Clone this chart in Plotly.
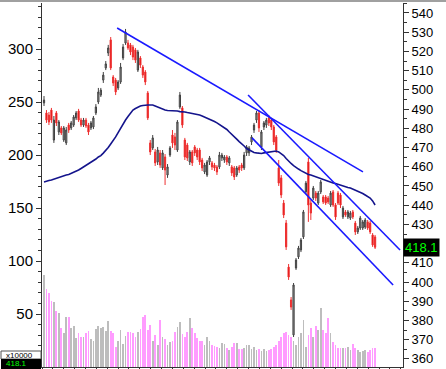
import plotly.graph_objects as go

# ---- data ----
open_ = [493.2,488.0,486.9,489.5,473.9,488.0,478.1,480.2,473.9,472.4,481.7,480.2,481.7,485.4,489.0,484.3,481.7,484.3,481.7,480.2,
         480.7,488.0,493.7,497.3,505.1,511.4,519.2,526.0,506.7,505.1,501.0,504.1,516.6,524.4,524.4,523.4,522.3,520.8,510.3,516.6,
         511.9,509.3,498.4,472.4,469.8,467.7,462.5,467.2,459.4,465.1,455.7,466.1,476.5,475.5,468.7,491.1,490.6,473.9,471.3,462.5,
         467.7,470.3,468.7,468.7,463.5,457.3,455.7,462.5,462.0,460.9,459.9,459.9,464.6,463.5,465.1,462.0,459.9,459.4,455.7,459.9,
         460.9,459.4,467.2,467.2,472.9,479.1,484.3,488.0,470.3,480.7,481.7,485.4,484.3,480.7,475.5,459.4,454.2,441.1,430.7,407.8,
         390.7,372.5,407.3,413.1,416.7,423.5,446.9,462.5,441.1,443.7,446.3,441.1,446.9,444.3,444.3,443.7,440.1,446.9,440.1,446.3,
         445.3,433.9,436.5,433.9,433.3,436.5,430.7,426.1,428.1,428.1,428.6,431.3,430.7,424.5,423.5]
high = [496.8,489.5,488.5,490.6,486.4,489.0,484.3,481.2,481.2,480.7,482.8,483.8,486.9,489.0,490.1,485.4,485.4,485.4,482.8,483.8,
        486.4,492.6,501.0,501.0,509.3,515.0,523.4,527.5,507.7,506.2,505.1,514.0,523.9,531.7,526.0,524.4,523.4,521.8,520.8,517.6,
        512.9,510.3,499.4,473.9,476.5,469.2,470.3,468.7,468.7,466.6,461.4,470.8,479.1,477.6,484.3,498.9,491.6,475.0,472.4,468.7,
        468.7,471.3,469.8,469.8,464.6,462.0,463.5,465.6,463.0,462.0,460.9,467.7,467.2,466.1,466.1,465.6,460.9,460.4,460.4,460.9,
        462.0,467.7,471.3,470.8,476.5,482.8,489.0,489.5,479.1,483.8,485.4,486.9,485.4,481.7,476.5,463.5,455.7,442.7,432.3,409.4,
        392.2,399.5,412.5,418.8,422.9,437.5,452.6,464.6,442.7,450.0,447.4,447.4,453.1,445.3,445.3,444.8,447.4,447.9,441.1,447.4,
        446.3,439.6,437.5,437.5,437.0,437.5,431.8,429.2,434.4,432.3,433.3,432.3,431.8,425.5,424.5]
low = [491.6,482.8,481.7,482.8,472.4,481.2,476.5,476.5,472.9,471.3,477.6,479.1,480.7,484.3,483.3,480.7,480.7,480.2,476.5,479.1,
       479.6,486.9,492.6,496.3,503.6,510.3,517.6,510.3,502.0,497.3,499.9,503.1,515.5,523.4,520.8,518.1,515.5,514.0,509.3,511.4,
       506.2,502.5,484.3,466.1,468.7,460.4,460.9,459.4,458.3,450.5,454.2,465.1,469.8,468.7,467.7,490.1,480.2,463.5,463.0,460.9,
       460.4,465.6,463.5,460.9,457.8,456.2,454.7,460.9,458.3,457.8,455.7,458.8,463.0,462.0,460.9,460.4,455.2,453.1,454.7,456.8,
       457.8,458.3,465.6,465.6,471.3,477.6,482.8,478.1,468.7,479.1,480.2,481.2,479.1,471.3,467.2,450.0,443.7,433.3,416.7,401.1,
       385.5,371.4,406.3,412.0,415.6,422.4,445.8,431.3,432.3,442.7,442.2,440.1,445.8,440.6,440.1,440.6,439.1,439.1,432.3,440.1,
       438.5,432.8,433.9,432.8,432.3,432.8,424.5,425.0,427.1,427.1,427.6,427.1,425.0,418.3,417.2]
close = [494.7,484.3,483.3,484.3,484.3,482.8,483.3,477.6,480.2,479.1,479.1,482.8,485.9,488.0,484.3,481.7,484.3,481.2,478.1,482.8,
         485.4,491.1,498.9,499.9,507.7,513.5,521.8,511.4,503.6,498.9,504.1,511.9,522.3,530.1,521.8,519.7,517.1,515.5,519.7,512.9,
         507.7,504.1,485.4,467.7,475.0,462.0,468.7,460.9,467.2,458.3,459.9,469.8,472.4,471.3,483.3,497.3,481.7,465.1,464.6,467.7,
         462.0,467.2,465.1,462.5,459.4,460.9,462.5,464.6,459.9,459.4,457.3,466.1,466.1,465.1,462.5,464.6,456.8,454.7,459.4,458.3,
         459.4,466.1,470.3,469.8,475.5,481.7,488.0,480.2,478.1,482.8,484.3,482.8,480.7,472.9,468.7,451.5,445.3,434.9,418.3,402.6,
         387.0,398.5,411.5,417.7,421.9,436.5,451.5,440.1,435.9,448.9,443.7,446.3,452.1,441.7,441.1,441.7,446.3,440.1,433.9,441.1,
         440.1,438.5,434.9,436.5,435.9,433.9,426.1,428.1,433.3,431.3,432.3,428.1,426.1,419.3,418.1]
moving_avg = [452.1,452.6,452.8,453.1,453.6,454.1,454.4,454.9,455.2,455.7,456.0,456.5,457.3,457.8,458.3,459.1,459.9,460.6,461.4,462.2,
              463.0,464.0,465.1,465.8,467.1,468.4,470.0,471.8,473.4,475.5,477.8,480.2,482.3,484.3,486.1,488.0,489.5,490.3,491.1,491.6,
              491.9,492.1,492.1,492.1,492.1,491.6,491.1,490.3,489.8,489.5,489.3,489.3,489.0,489.0,489.0,488.7,488.7,488.5,488.2,488.0,
              487.7,487.4,487.2,486.9,486.4,485.9,485.4,484.6,484.0,483.5,482.8,482.0,481.2,480.4,479.4,478.1,477.0,475.7,474.4,473.1,
              472.1,470.8,469.5,468.7,467.9,467.4,467.2,466.9,466.9,467.2,467.4,467.7,467.9,468.2,468.2,467.7,466.9,465.8,464.3,462.7,
              461.7,460.6,459.9,458.8,458.0,457.3,456.7,456.0,455.7,455.2,454.7,454.4,454.1,453.6,453.1,452.6,452.1,451.5,451.3,450.8,
              450.5,450.0,449.5,449.2,448.9,448.4,447.9,447.4,446.9,446.1,445.3,444.5,443.7,442.2,440.1]
volume = [87,74,70,62,61,53,51,37,32,47,47,37,39,27,32,28,28,32,34,26,25,36,39,37,38,34,43,34,32,19,25,35,22,29,33,33,32,28,33,36,
          47,49,35,40,25,30,21,44,28,26,21,24,25,33,38,42,31,28,33,46,37,32,27,25,25,21,28,25,21,20,19,18,23,22,18,16,19,23,23,17,
          17,18,21,21,17,19,16,17,15,17,15,16,17,19,21,
          25,28,32,33,30,28,25,21,28,32,44,19,30,37,28,39,35,56,35,32,46,32,24,21,18,18,18,18,19,16,22,18,16,14,15,16,14,16,18,18]
# trend lines: (bar index, price) endpoints
trend_upper = ([29.6, 129.1], [532.2, 457.3])
trend_mid = ([82.6, 144.1], [497.3, 416.7])
trend_low = ([84.2, 141.3], [475.0, 398.5])
left_ticks = [50, 100, 150, 200, 250, 300]
right_ticks = [360, 370, 380, 390, 400, 410, 430, 440, 450, 460, 470, 480, 490, 500, 510, 520, 530, 540]
last_price_label = "418.1"
vol_unit_label = "x10000"
bottom_price_label = "418.1"

idx = list(range(len(close)))
vol_colors = ['#bdbdbd' if c >= o else '#ff9cff' for o, c in zip(open_, close)]

fig = go.Figure()
fig.add_trace(go.Bar(x=idx, y=volume, marker=dict(color=vol_colors, line=dict(width=0)),
                     width=0.7, yaxis='y', showlegend=False))
fig.add_trace(go.Candlestick(x=idx, open=open_, high=high, low=low, close=close, yaxis='y2',
                             increasing=dict(fillcolor='#a0a0a0', line=dict(color='#404040', width=1)),
                             decreasing=dict(fillcolor='#e00000', line=dict(color='#ee3030', width=1)),
                             whiskerwidth=0, showlegend=False))
fig.add_trace(go.Scatter(x=idx, y=moving_avg, yaxis='y2', mode='lines',
                         line=dict(color='#14148c', width=1.6), showlegend=False))
for tl in (trend_upper, trend_mid, trend_low):
    fig.add_trace(go.Scatter(x=tl[0], y=tl[1], yaxis='y2', mode='lines',
                             line=dict(color='#1a1aff', width=1.6), showlegend=False))

W, H = 446, 369
ml, mr, mt, mb = 42, 43, 3, 2
pw, ph = W - ml - mr, H - mt - mb
def px(x):
    return (x - ml) / pw
def py(y):
    return (H - mb - y) / ph

fam = 'Liberation Sans, Arial, sans-serif'
fig.update_layout(
    width=W, height=H, margin=dict(l=ml, r=mr, t=mt, b=mb, autoexpand=False),
    paper_bgcolor='white', plot_bgcolor='white', bargap=0, hovermode=False,
    xaxis=dict(range=[-0.81, 145.3], showgrid=False, zeroline=False, showline=True, linecolor='#333',
               linewidth=1, ticks='outside', ticklen=3, tickcolor='#333', tick0=-0.81, dtick=4.4,
               showticklabels=False, rangeslider=dict(visible=False), fixedrange=True, automargin=False),
    yaxis=dict(range=[0, 343.4], showgrid=False, zeroline=False, showline=True, linecolor='#333',
               linewidth=1, ticks='outside', ticklen=5, tickcolor='#333', tickmode='array',
               tickvals=left_ticks, tickfont=dict(family=fam, size=15, color='#000'), automargin=False,
               minor=dict(ticks='outside', ticklen=3, tickcolor='#333', dtick=10, tick0=0, showgrid=False)),
    yaxis2=dict(range=[355.8, 545.2], overlaying='y', side='right', showgrid=False, zeroline=False,
                showline=True, linecolor='#333', linewidth=1, ticks='outside', ticklen=5, tickcolor='#333',
                tickmode='array', tickvals=right_ticks, automargin=False,
                tickfont=dict(family=fam, size=13, color='#000'),
                minor=dict(ticks='outside', ticklen=3, tickcolor='#333', dtick=5, tick0=0, showgrid=False)),
    shapes=[
        dict(type='line', xref='paper', yref='paper', x0=px(0), x1=px(W), y0=py(1), y1=py(1),
             line=dict(color='#a0a0a0', width=2)),
        dict(type='rect', xref='paper', yref='paper', x0=px(1), x1=px(41), y0=py(351), y1=py(359),
             line=dict(color='#555', width=1), fillcolor='white'),
        dict(type='rect', xref='paper', yref='paper', x0=px(1), x1=px(41), y0=py(359), y1=py(370),
             line=dict(color='#000', width=0), fillcolor='black'),
    ],
    annotations=[
        dict(xref='paper', yref='y2', x=1.0, y=418.1, text=last_price_label, showarrow=False,
             xanchor='left', yanchor='middle', bgcolor='black', borderpad=1,
             font=dict(family=fam, size=13, color='#00ff00')),
        dict(xref='paper', yref='paper', x=px(4), y=py(355), text=vol_unit_label, showarrow=False,
             xanchor='left', yanchor='middle', font=dict(family=fam, size=8, color='#000')),
        dict(xref='paper', yref='paper', x=px(4), y=py(363.5), text=bottom_price_label, showarrow=False,
             xanchor='left', yanchor='middle', font=dict(family=fam, size=8, color='#00ff00')),
    ],
)
fig.write_html("out.html", config={'displayModeBar': False, 'staticPlot': True},
               post_script="document.body.style.margin='0';document.body.style.overflow='hidden';")
